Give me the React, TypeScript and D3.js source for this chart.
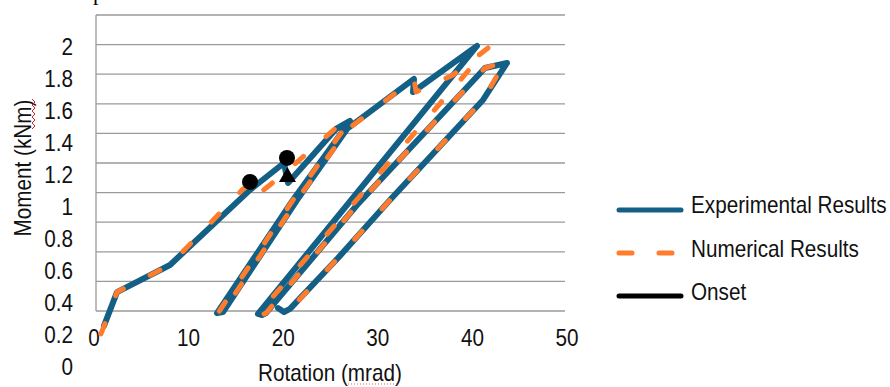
import * as d3 from 'd3';

// Experimental results (rotation mrad, moment kNm)
const expRot = [0.85, 2.24, 7.89, 16.42, 20.04, 20.47, 25.59, 27.08, 21.0, 12.9, 13.54, 21.43, 26.76, 33.9, 33.8, 40.62, 17.27, 17.7, 18.12, 27.83, 41.47, 43.82, 41.26, 31.34, 25.8, 20.68, 20.04, 19.4];
const expMoment = [0.099, 0.328, 0.511, 1.018, 1.2, 1.065, 1.43, 1.484, 0.95, 0.186, 0.193, 0.95, 1.43, 1.768, 1.68, 1.991, 0.18, 0.173, 0.186, 0.916, 1.842, 1.876, 1.626, 0.95, 0.558, 0.214, 0.193, 0.22];

// Numerical results
const numRot = [0.53, 2.24, 7.89, 15.67, 16.52, 16.84, 20.36, 25.8, 26.97, 21.0, 13.01, 13.54, 21.43, 26.87, 33.9, 34.12, 38.06, 41.79, 17.27, 17.7, 18.12, 27.83, 41.47, 43.6, 41.26, 31.34, 25.8, 20.36];
const numMoment = [0.045, 0.328, 0.511, 1.024, 1.058, 0.964, 1.146, 1.45, 1.477, 0.95, 0.186, 0.193, 0.95, 1.43, 1.768, 1.68, 1.795, 1.977, 0.18, 0.173, 0.186, 0.916, 1.842, 1.882, 1.626, 0.95, 0.558, 0.186];

// Onset markers
const onsetCircleRot = [16.42, 20.36];
const onsetCircleMoment = [1.072, 1.234];
const onsetTriRot = [20.41];
const onsetTriMoment = [1.105];

const gridValues = [0.2, 0.4, 0.6, 0.8, 1, 1.2, 1.4, 1.6, 1.8, 2, 2.2];
const yTickLabels = [0, 0.2, 0.4, 0.6, 0.8, 1, 1.2, 1.4, 1.6, 1.8, 2];
const xTickLabels = [0, 10, 20, 30, 40, 50];

const legendItems = ['Experimental Results', 'Numerical Results', 'Onset'];

const BLUE = '#145f85';
const ORANGE = '#ff7c2c';
const FONT = '"Liberation Sans", Arial, sans-serif';
const FS = 23;
const SX = 0.9; // source text is a bit condensed

function Label({ x, y, anchor = 'start', rotate = 0, children }: { x: number; y: number; anchor?: string; rotate?: number; children: any }) {
  return (
    <text
      transform={`translate(${x},${y}) rotate(${rotate}) scale(${SX},1)`}
      dy="0.36em"
      textAnchor={anchor}
      fontSize={FS}
      fill="#111"
    >
      {children}
    </text>
  );
}

export default function App() {
  const x = d3.scaleLinear().domain([0, 50]).range([96, 565]);
  const y = d3.scaleLinear().domain([0.2, 2.2]).range([311, 15]);
  // tick labels in the source sit slightly off the grid
  const xLab = d3.scaleLinear().domain([0, 50]).range([94, 567]);
  const yLab = d3.scaleLinear().domain([0, 2]).range([367, 47]);

  const expPts = expRot.map((r, i) => [r, expMoment[i]] as [number, number]);
  const numPts = numRot.map((r, i) => [r, numMoment[i]] as [number, number]);
  const lineFn = d3.line().x((d) => x(d[0])).y((d) => y(d[1]));

  const tri = d3.symbol().type(d3.symbolTriangle).size(125)();

  return (
    <div style={{ position: 'fixed', left: 0, top: 0 }}>
      <svg width={890} height={387} style={{ display: 'block', background: '#fff' }} fontFamily={FONT}>
        {/* cut-off title fragment */}
        <text x={93} y={0} fontFamily='"Liberation Serif", serif' fontSize={22} fill="#000">p</text>

        {gridValues.map((v) => (
          <line key={v} x1={x(0)} x2={x(50)} y1={y(v)} y2={y(v)} stroke="#9a9a9a" strokeWidth={1.3} />
        ))}
        <line x1={x(0)} x2={x(0)} y1={y(2.2)} y2={y(0.2)} stroke="#9a9a9a" strokeWidth={1.3} />

        {yTickLabels.map((v) => (
          <Label key={v} x={73} y={yLab(v)} anchor="end">{String(v)}</Label>
        ))}
        {xTickLabels.map((v) => (
          <Label key={v} x={xLab(v)} y={338} anchor="middle">{v}</Label>
        ))}

        <Label x={330} y={373} anchor="middle">Rotation (mrad)</Label>
        <path d="M348,384 L398,384" stroke="#e06060" strokeWidth={1} strokeDasharray="1 2" />
        <Label x={23} y={168} anchor="middle" rotate={-90}>Moment (kNm)</Label>
        <path
          d={d3.range(99, 132, 3).map((v, i) => `${i === 0 ? 'M' : 'L'}${i % 2 ? 35 : 32},${v}`).join('')}
          fill="none"
          stroke="#e02020"
          strokeWidth={1}
        />

        <path d={lineFn(expPts) ?? ''} fill="none" stroke={BLUE} strokeWidth={6} strokeLinejoin="round" strokeLinecap="round" />
        <path
          d={lineFn(numPts) ?? ''}
          fill="none"
          stroke={ORANGE}
          strokeWidth={5}
          strokeLinejoin="round"
          strokeLinecap="round"
          strokeDasharray="11 30"
        />

        {onsetCircleRot.map((r, i) => (
          <circle key={i} cx={x(r)} cy={y(onsetCircleMoment[i])} r={8} fill="#000" />
        ))}
        {onsetTriRot.map((r, i) => (
          <path key={i} d={tri ?? ''} transform={`translate(${x(r)},${y(onsetTriMoment[i])})`} fill="#000" />
        ))}

        {legendItems.map((name, i) => {
          const ly = 210 + i * 44;
          return (
            <g key={name}>
              {i === 0 && <line x1={619} x2={681} y1={ly} y2={ly} stroke={BLUE} strokeWidth={5} strokeLinecap="round" />}
              {i === 1 && (
                <line x1={619} x2={681} y1={ly - 1} y2={ly - 1} stroke={ORANGE} strokeWidth={5} strokeLinecap="round" strokeDasharray="13 27" />
              )}
              {i === 2 && <line x1={619} x2={681} y1={ly - 2} y2={ly - 2} stroke="#000" strokeWidth={5} strokeLinecap="round" />}
              <Label x={691} y={ly - 5 - i * 0.5}>{name}</Label>
            </g>
          );
        })}
      </svg>
    </div>
  );
}
